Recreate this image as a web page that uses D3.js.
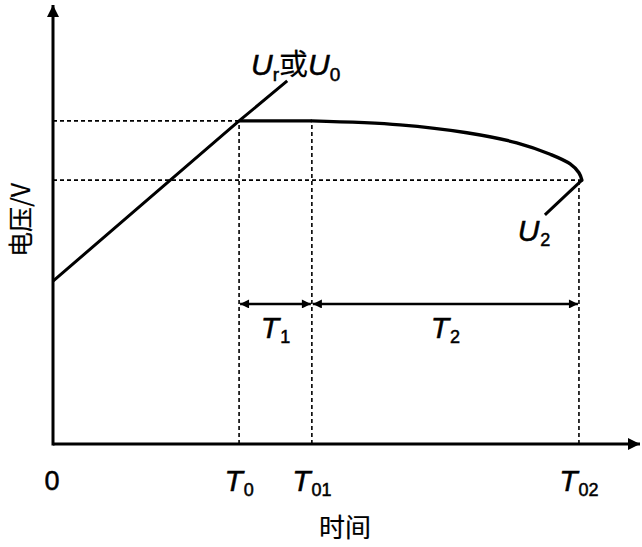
<!DOCTYPE html>
<html>
<head>
<meta charset="utf-8">
<script src="https://cdn.jsdelivr.net/npm/d3@7"></script>
<style>
  body { margin: 0; background: #fff; }
  svg { display: block; }
  text { font-family: "Liberation Sans", Arial, sans-serif; fill: #000; stroke: #000; stroke-width: 0.5; }
  .cjk { font-family: "Noto Sans CJK SC", sans-serif; stroke-width: 0.2; }
</style>
</head>
<body>
<svg id="chartSVG" width="642" height="547"></svg>
<script>
// time points (arbitrary units)
var T0 = 3.17, T01 = 4.41, T02 = 8.96;
var level1 = 7.36, level2 = 6.01;

var tickValues = [0, T0, T01, T02];
var tickNames = ["0", "T", "T", "T"];
var tickSubs = ["", "0", "01", "02"];

// rising line Ur / U0
var riseX = [0, T0, 3.99];
var riseY = [3.71, level1, 8.27];

// plateau (straight) then decay curve
var plateauX = [T0, T01];
var plateauY = [level1, level1];
var decayX = [T01, 5.91, 7.05, 7.90, 8.47, 8.81, 8.96, 9.01];
var decayY = [level1, 7.27, 7.09, 6.86, 6.60, 6.38, 6.18, level2];

// U2 pointer
var u2X = [9.01, 8.38];
var u2Y = [level2, 5.22];

var spanY = 3.19;

var svg = d3.select("#chartSVG");

var xScale = d3.scaleLinear().domain([0, 10]).range([53, 640]);
var yScale = d3.scaleLinear().domain([0, 10]).range([444, 5]);

var defs = svg.append("defs");
defs.append("marker").attr("id", "axisHead")
    .attr("viewBox", "0 0 10 10").attr("refX", 10).attr("refY", 5)
    .attr("markerWidth", 14).attr("markerHeight", 12)
    .attr("markerUnits", "userSpaceOnUse").attr("orient", "auto")
    .append("path").attr("d", "M0,0 L10,5 L0,10 Z").attr("fill", "#000");
defs.append("marker").attr("id", "spanHead")
    .attr("viewBox", "0 0 10 10").attr("refX", 10).attr("refY", 5)
    .attr("markerWidth", 11).attr("markerHeight", 9)
    .attr("markerUnits", "userSpaceOnUse").attr("orient", "auto-start-reverse")
    .append("path").attr("d", "M0,0 L10,5 L0,10 Z").attr("fill", "#000");

// dashed guides
var dashed = svg.append("g").attr("stroke", "#000").attr("stroke-width", 1.6)
    .attr("stroke-dasharray", "4,3").attr("fill", "none");
[T0, T01, T02].forEach(function(t){
    dashed.append("line")
        .attr("x1", xScale(t)).attr("x2", xScale(t))
        .attr("y1", yScale(0)).attr("y2", t == T02 ? yScale(level2) : yScale(level1));
});
dashed.append("line").attr("x1", xScale(0)).attr("x2", xScale(T0))
    .attr("y1", yScale(level1)).attr("y2", yScale(level1));
dashed.append("line").attr("x1", xScale(0)).attr("x2", xScale(9.01))
    .attr("y1", yScale(level2)).attr("y2", yScale(level2));

// axes
svg.append("line").attr("x1", xScale(0)).attr("x2", xScale(10))
    .attr("y1", yScale(0)).attr("y2", yScale(0))
    .attr("stroke", "#000").attr("stroke-width", 3).attr("marker-end", "url(#axisHead)");
svg.append("line").attr("x1", xScale(0)).attr("x2", xScale(0))
    .attr("y1", yScale(0) + 1.5).attr("y2", yScale(10))
    .attr("stroke", "#000").attr("stroke-width", 3).attr("marker-end", "url(#axisHead)");

var line = d3.line().x(function(d){ return xScale(d[0]); }).y(function(d){ return yScale(d[1]); });

svg.append("path").datum(d3.zip(riseX, riseY)).attr("d", line)
    .attr("fill", "none").attr("stroke", "#000").attr("stroke-width", 3);

svg.append("path").datum(d3.zip(plateauX, plateauY)).attr("d", line)
    .attr("fill", "none").attr("stroke", "#000").attr("stroke-width", 3.4);

svg.append("path").datum(d3.zip(decayX, decayY)).attr("d", line.curve(d3.curveCatmullRom.alpha(0.5)))
    .attr("fill", "none").attr("stroke", "#000").attr("stroke-width", 3.4)
    .attr("stroke-linecap", "round");

svg.append("path").datum(d3.zip(u2X, u2Y)).attr("d", line.curve(d3.curveLinear))
    .attr("fill", "none").attr("stroke", "#000").attr("stroke-width", 3);

// T1 / T2 spans
[[T0, T01], [T01, T02]].forEach(function(s){
    svg.append("line")
        .attr("x1", xScale(s[0]) + 1).attr("x2", xScale(s[1]) - 1)
        .attr("y1", yScale(spanY)).attr("y2", yScale(spanY))
        .attr("stroke", "#000").attr("stroke-width", 2.6)
        .attr("marker-start", "url(#spanHead)").attr("marker-end", "url(#spanHead)");
});

function subLabel(x, y, main, sub, size, italic){
    var t = svg.append("text").attr("x", x).attr("y", y)
        .attr("font-size", size).attr("text-anchor", "middle");
    t.append("tspan").text(main).attr("font-style", italic ? "italic" : "normal");
    if (sub) t.append("tspan").text(sub).attr("font-size", 18).attr("dx", 1).attr("dy", 5);
    return t;
}

// tick labels
tickValues.forEach(function(v, i){
    if (i == 0) subLabel(xScale(v) - 1, 490, tickNames[i], "", 27, false);
    else subLabel(xScale(v), 491, tickNames[i], tickSubs[i], 30, true);
});

subLabel((xScale(T0) + xScale(T01)) / 2, 338, "T", "1", 30, true);
subLabel((xScale(T01) + xScale(T02)) / 2, 338, "T", "2", 30, true);
subLabel(534, 241, "U", "2", 30, true);

// Ur或U0
var ul = svg.append("text").attr("x", 251).attr("y", 75).attr("font-size", 30);
ul.append("tspan").text("U").attr("font-style", "italic");
ul.append("tspan").text("r").attr("font-size", 19).attr("dy", 6);
ul.append("tspan").text("或").attr("class", "cjk").attr("font-size", 29).attr("dy", -6);
ul.append("tspan").text("U").attr("font-style", "italic");
ul.append("tspan").text("0").attr("font-size", 19).attr("dy", 6);

// axis titles
svg.append("text").attr("class", "cjk").attr("x", 345).attr("y", 537)
    .attr("font-size", 26).attr("text-anchor", "middle").text("时间");
svg.append("text").attr("class", "cjk")
    .attr("transform", "translate(30,220) rotate(-90)")
    .attr("font-size", 25).attr("text-anchor", "middle").text("电压/V");
</script>
</body>
</html>
